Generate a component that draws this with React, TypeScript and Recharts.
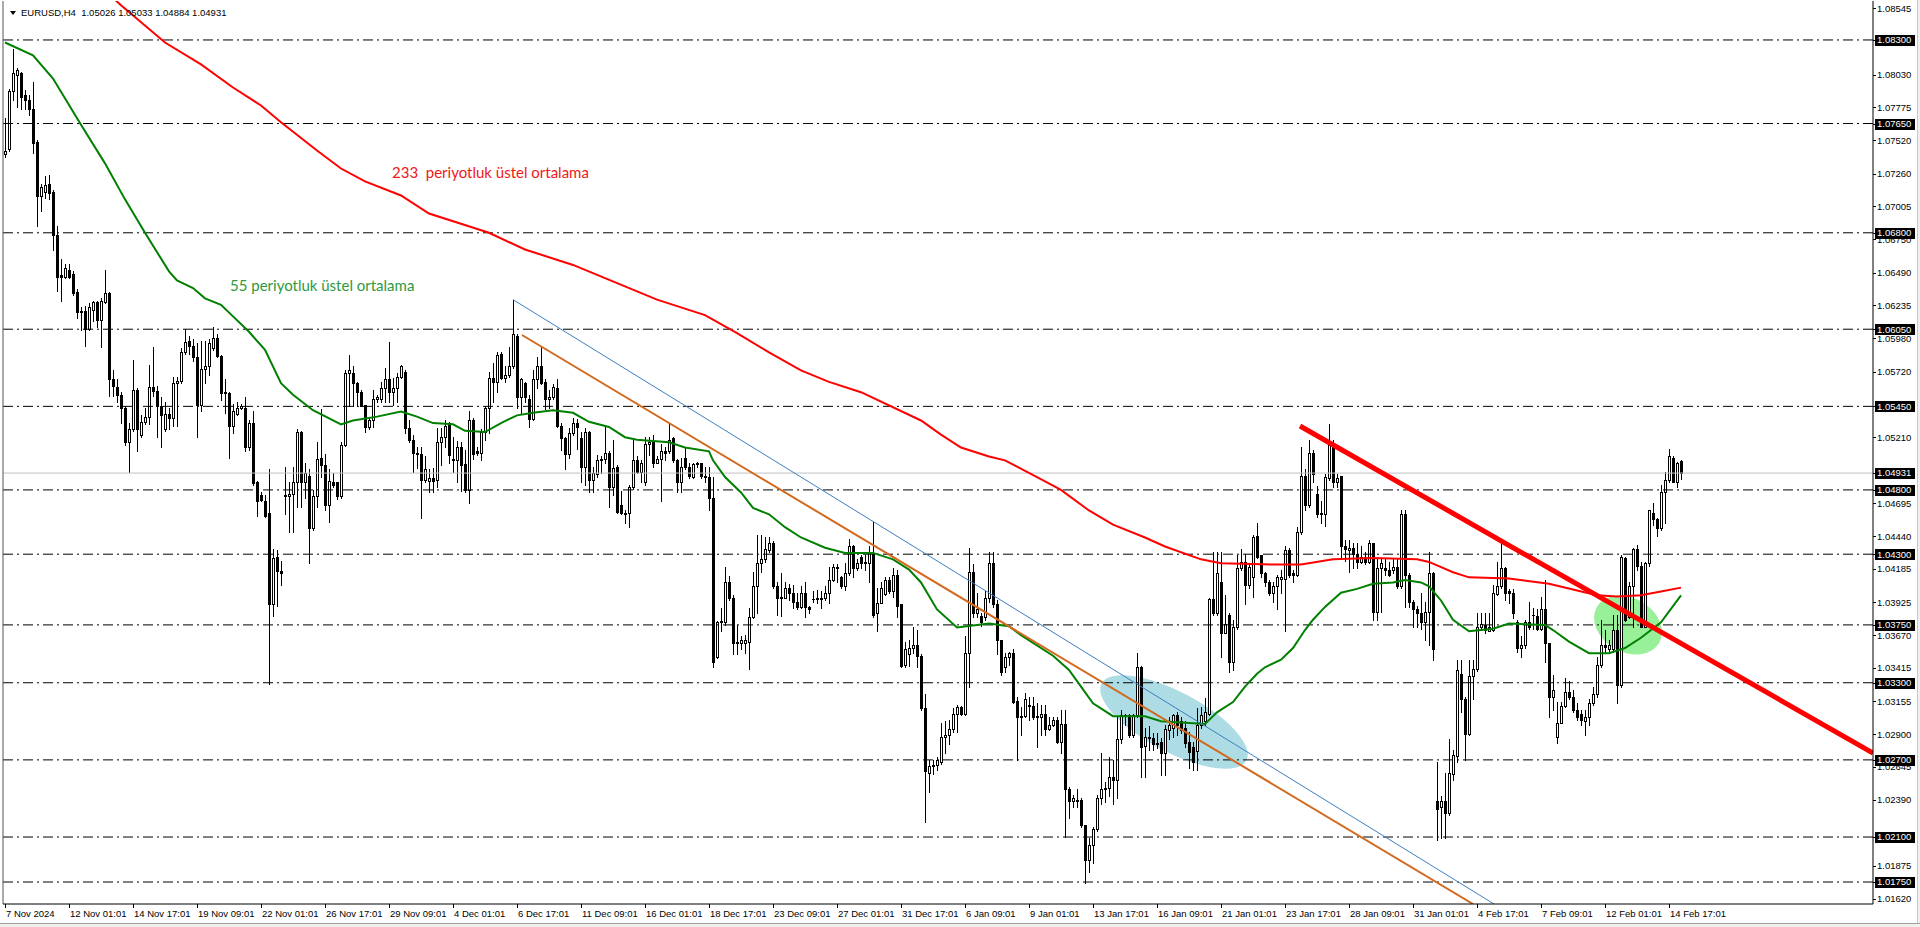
import React from 'react';
import { ComposedChart, Bar, Line, XAxis, YAxis, ReferenceLine, ReferenceArea, ReferenceDot } from 'recharts';

// ---------- DATA (EURUSD H4) ----------
const OPEN = [
1.0741,1.0745,1.0790,1.0803,1.0804,1.0787,1.0783,1.0776,1.0751,1.0709,
1.0712,1.0718,1.0712,1.0678,1.0647,1.0646,1.0651,1.0648,1.0634,1.0619,
1.0619,1.0605,1.0620,1.0626,1.0612,1.0626,1.0633,1.0566,1.0560,1.0554,
1.0544,1.0517,1.0527,1.0558,1.0523,1.0533,1.0537,1.0560,1.0557,1.0545,
1.0527,1.0539,1.0536,1.0563,1.0565,1.0587,1.0596,1.0592,1.0583,1.0546,
1.0574,1.0576,1.0590,1.0598,1.0584,1.0556,1.0555,1.0530,1.0539,1.0544,
1.0544,1.0513,1.0532,1.0486,1.0476,1.0471,1.0462,1.0391,1.0428,1.0417,
1.0475,1.0475,1.0477,1.0486,1.0525,1.0486,1.0491,1.0450,1.0475,1.0505,
1.0499,1.0468,1.0486,1.0486,1.0475,1.0515,1.0571,1.0571,1.0563,1.0556,
1.0546,1.0529,1.0534,1.0551,1.0551,1.0559,1.0566,1.0556,1.0559,1.0568,
1.0572,1.0528,1.0519,1.0509,1.0508,1.0488,1.0487,1.0489,1.0488,1.0517,
1.0521,1.0532,1.0504,1.0503,1.0513,1.0500,1.0480,1.0534,1.0510,1.0509,
1.0525,1.0544,1.0567,1.0564,1.0586,1.0567,1.0569,1.0576,1.0600,1.0552,
1.0563,1.0551,1.0535,1.0566,1.0576,1.0564,1.0551,1.0552,1.0559,1.0530,
1.0520,1.0508,1.0524,1.0532,1.0520,1.0498,1.0525,1.0488,1.0492,1.0503,
1.0504,1.0509,1.0482,1.0498,1.0468,1.0462,1.0462,1.0482,1.0503,1.0494,
1.0486,1.0516,1.0517,1.0501,1.0504,1.0510,1.0510,1.0520,1.0503,1.0486,
1.0505,1.0498,1.0490,1.0501,1.0501,1.0491,1.0490,1.0474,1.0350,1.0377,
1.0377,1.0408,1.0396,1.0362,1.0361,1.0361,1.0362,1.0381,1.0405,1.0423,
1.0426,1.0433,1.0439,1.0405,1.0397,1.0396,1.0404,1.0400,1.0393,1.0389,
1.0400,1.0389,1.0395,1.0395,1.0395,1.0396,1.0400,1.0410,1.0420,1.0412,
1.0405,1.0415,1.0436,1.0419,1.0428,1.0424,1.0423,1.0431,1.0384,1.0392,
1.0399,1.0410,1.0401,1.0414,1.0391,1.0344,1.0352,1.0357,1.0359,1.0351,
1.0310,1.0260,1.0265,1.0266,1.0268,1.0288,1.0289,1.0294,1.0306,1.0311,
1.0306,1.0353,1.0416,1.0384,1.0382,1.0381,1.0396,1.0423,1.0391,1.0363,
1.0342,1.0350,1.0353,1.0316,1.0303,1.0304,1.0313,1.0312,1.0303,1.0303,
1.0306,1.0294,1.0297,1.0301,1.0284,1.0298,1.0247,1.0238,1.0238,1.0239,
1.0219,1.0192,1.0204,1.0216,1.0240,1.0247,1.0248,1.0257,1.0254,1.0286,
1.0305,1.0305,1.0289,1.0305,1.0342,1.0281,1.0288,1.0287,1.0282,1.0284,
1.0275,1.0293,1.0295,1.0305,1.0300,1.0295,1.0284,1.0280,1.0277,1.0297,
1.0300,1.0306,1.0395,1.0384,1.0408,1.0369,1.0383,1.0346,1.0373,1.0419,
1.0424,1.0406,1.0412,1.0444,1.0429,1.0415,1.0408,1.0400,1.0405,1.0411,
1.0411,1.0433,1.0415,1.0414,1.0447,1.0491,1.0468,1.0509,1.0477,1.0462,
1.0461,1.0489,1.0515,1.0486,1.0491,1.0436,1.0433,1.0435,1.0430,1.0424,
1.0428,1.0424,1.0439,1.0385,1.0419,1.0419,1.0418,1.0418,1.0420,1.0405,
1.0461,1.0414,1.0393,1.0387,1.0384,1.0377,1.0385,1.0415,1.0238,1.0233,
1.0238,1.0229,1.0259,1.0273,1.0337,1.0317,1.0290,1.0335,1.0341,1.0373,
1.0375,1.0370,1.0371,1.0399,1.0405,1.0419,1.0401,1.0400,1.0377,1.0357,
1.0359,1.0377,1.0383,1.0382,1.0372,1.0387,1.0361,1.0319,1.0288,1.0299,
1.0312,1.0323,1.0319,1.0309,1.0306,1.0300,1.0303,1.0314,1.0321,1.0344,
1.0359,1.0356,1.0356,1.0371,1.0328,1.0427,1.0381,1.0405,1.0434,1.0421,
1.0373,1.0423,1.0462,1.0457,1.0450,1.0478,1.0488,1.0505,1.0486,1.05026,
];
const HIGH = [
1.0769,1.0792,1.0823,1.0808,1.0805,1.0791,1.0787,1.0797,1.0752,1.0718,
1.0724,1.0725,1.0713,1.0685,1.0660,1.0656,1.0656,1.0650,1.0636,1.0622,
1.0623,1.0625,1.0627,1.0627,1.0629,1.0651,1.0634,1.0573,1.0566,1.0556,
1.0545,1.0532,1.0581,1.0559,1.0538,1.0544,1.0577,1.0591,1.0561,1.0552,
1.0548,1.0544,1.0568,1.0568,1.0590,1.0605,1.0600,1.0597,1.0594,1.0596,
1.0596,1.0597,1.0607,1.0601,1.0585,1.0566,1.0556,1.0547,1.0548,1.0547,
1.0552,1.0534,1.0541,1.0487,1.0478,1.0476,1.0496,1.0434,1.0433,1.0425,
1.0498,1.0486,1.0498,1.0527,1.0526,1.0501,1.0496,1.0480,1.0517,1.0543,
1.0508,1.0496,1.0493,1.0486,1.0517,1.0573,1.0585,1.0576,1.0564,1.0558,
1.0546,1.0537,1.0558,1.0554,1.0564,1.0575,1.0595,1.0567,1.0571,1.0577,
1.0573,1.0534,1.0523,1.0513,1.0513,1.0506,1.0496,1.0497,1.0528,1.0528,
1.0534,1.0533,1.0521,1.0518,1.0517,1.0511,1.0541,1.0536,1.0513,1.0527,
1.0545,1.0572,1.0579,1.0587,1.0587,1.0576,1.0591,1.0628,1.0601,1.0567,
1.0564,1.0554,1.0573,1.0583,1.0591,1.0566,1.0558,1.0562,1.0566,1.0532,
1.0521,1.0528,1.0536,1.0535,1.0525,1.0528,1.0526,1.0498,1.0507,1.0506,
1.0529,1.0510,1.0519,1.0499,1.0479,1.0464,1.0484,1.0519,1.0506,1.0503,
1.0521,1.0521,1.0523,1.0506,1.0516,1.0513,1.0532,1.0521,1.0504,1.0505,
1.0513,1.0501,1.0501,1.0502,1.0501,1.0498,1.0498,1.0490,1.0378,1.0388,
1.0420,1.0413,1.0398,1.0375,1.0366,1.0367,1.0388,1.0416,1.0445,1.0445,
1.0443,1.0443,1.0440,1.0408,1.0415,1.0408,1.0407,1.0406,1.0400,1.0405,
1.0408,1.0390,1.0401,1.0402,1.0401,1.0405,1.0420,1.0422,1.0422,1.0413,
1.0423,1.0442,1.0437,1.0426,1.0429,1.0429,1.0436,1.0455,1.0404,1.0408,
1.0412,1.0412,1.0419,1.0418,1.0391,1.0362,1.0363,1.0373,1.0371,1.0352,
1.0321,1.0270,1.0270,1.0272,1.0299,1.0300,1.0301,1.0310,1.0313,1.0312,
1.0366,1.0435,1.0422,1.0400,1.0384,1.0401,1.0432,1.0432,1.0394,1.0363,
1.0353,1.0354,1.0356,1.0319,1.0311,1.0322,1.0319,1.0319,1.0314,1.0313,
1.0313,1.0303,1.0303,1.0303,1.0309,1.0309,1.0249,1.0243,1.0247,1.0240,
1.0219,1.0209,1.0218,1.0243,1.0275,1.0253,1.0272,1.0270,1.0303,1.0309,
1.0306,1.0306,1.0306,1.0353,1.0343,1.0295,1.0296,1.0291,1.0291,1.0287,
1.0297,1.0303,1.0306,1.0307,1.0303,1.0300,1.0292,1.0284,1.0310,1.0311,
1.0318,1.0396,1.0432,1.0432,1.0432,1.0398,1.0384,1.0379,1.0429,1.0434,
1.0430,1.0422,1.0445,1.0454,1.0429,1.0416,1.0410,1.0408,1.0414,1.0418,
1.0436,1.0435,1.0418,1.0451,1.0513,1.0496,1.0519,1.0511,1.0483,1.0471,
1.0492,1.0531,1.0519,1.0492,1.0491,1.0441,1.0441,1.0439,1.0439,1.0436,
1.0432,1.0441,1.0439,1.0426,1.0426,1.0426,1.0424,1.0426,1.0426,1.0464,
1.0464,1.0415,1.0394,1.0390,1.0400,1.0393,1.0432,1.0416,1.0268,1.0242,
1.0260,1.0286,1.0278,1.0348,1.0348,1.0319,1.0348,1.0348,1.0384,1.0384,
1.0384,1.0384,1.0406,1.0424,1.0439,1.0420,1.0403,1.0403,1.0379,1.0366,
1.0379,1.0393,1.0388,1.0387,1.0397,1.0410,1.0361,1.0336,1.0315,1.0315,
1.0334,1.0331,1.0324,1.0314,1.0309,1.0309,1.0317,1.0327,1.0350,1.0379,
1.0371,1.0363,1.0383,1.0383,1.0429,1.0428,1.0408,1.0435,1.0437,1.0424,
1.0424,1.0464,1.0470,1.0458,1.0484,1.0494,1.0512,1.0506,1.0502,1.05033,
];
const LOW = [
1.0739,1.0744,1.0783,1.0778,1.0776,1.0776,1.0772,1.0742,1.0685,1.0697,
1.0707,1.0706,1.0667,1.0635,1.0627,1.0645,1.0645,1.0632,1.0614,1.0604,
1.0592,1.0604,1.0611,1.0607,1.0591,1.0625,1.0553,1.0553,1.0548,1.0532,
1.0515,1.0494,1.0526,1.0510,1.0521,1.0531,1.0531,1.0553,1.0521,1.0513,
1.0526,1.0527,1.0530,1.0530,1.0563,1.0586,1.0586,1.0580,1.0521,1.0541,
1.0563,1.0569,1.0589,1.0583,1.0550,1.0540,1.0505,1.0524,1.0538,1.0543,
1.0510,1.0511,1.0484,1.0460,1.0471,1.0459,1.0329,1.0382,1.0390,1.0406,
1.0461,1.0447,1.0447,1.0467,1.0467,1.0474,1.0423,1.0449,1.0467,1.0490,
1.0464,1.0455,1.0482,1.0473,1.0474,1.0514,1.0545,1.0545,1.0545,1.0545,
1.0525,1.0527,1.0529,1.0548,1.0548,1.0548,1.0548,1.0546,1.0548,1.0567,
1.0524,1.0517,1.0494,1.0497,1.0458,1.0486,1.0478,1.0478,1.0482,1.0499,
1.0513,1.0501,1.0494,1.0486,1.0479,1.0478,1.0470,1.0504,1.0507,1.0503,
1.0519,1.0524,1.0548,1.0556,1.0566,1.0564,1.0568,1.0575,1.0544,1.0540,
1.0548,1.0529,1.0534,1.0559,1.0562,1.0543,1.0544,1.0551,1.0529,1.0511,
1.0496,1.0505,1.0523,1.0512,1.0486,1.0484,1.0478,1.0478,1.0490,1.0493,
1.0501,1.0467,1.0476,1.0462,1.0461,1.0454,1.0451,1.0481,1.0493,1.0486,
1.0484,1.0507,1.0498,1.0501,1.0471,1.0503,1.0509,1.0502,1.0478,1.0478,
1.0496,1.0489,1.0489,1.0498,1.0489,1.0486,1.0464,1.0342,1.0349,1.0370,
1.0375,1.0394,1.0352,1.0352,1.0356,1.0353,1.0341,1.0380,1.0384,1.0416,
1.0424,1.0432,1.0404,1.0383,1.0382,1.0396,1.0394,1.0388,1.0387,1.0388,
1.0381,1.0384,1.0393,1.0392,1.0388,1.0394,1.0392,1.0409,1.0408,1.0404,
1.0402,1.0414,1.0412,1.0418,1.0419,1.0418,1.0408,1.0381,1.0370,1.0392,
1.0398,1.0400,1.0397,1.0381,1.0342,1.0342,1.0343,1.0353,1.0342,1.0309,
1.0222,1.0245,1.0259,1.0262,1.0267,1.0275,1.0282,1.0292,1.0292,1.0305,
1.0305,1.0327,1.0381,1.0381,1.0374,1.0379,1.0393,1.0389,1.0352,1.0336,
1.0338,1.0344,1.0314,1.0270,1.0289,1.0303,1.0301,1.0302,1.0280,1.0289,
1.0289,1.0293,1.0296,1.0283,1.0275,1.0210,1.0225,1.0233,1.0233,1.0218,
1.0174,1.0183,1.0190,1.0215,1.0236,1.0237,1.0242,1.0236,1.0240,1.0283,
1.0297,1.0288,1.0288,1.0303,1.0257,1.0257,1.0278,1.0278,1.0279,1.0258,
1.0258,1.0286,1.0288,1.0289,1.0291,1.0280,1.0264,1.0262,1.0262,1.0295,
1.0297,1.0305,1.0383,1.0383,1.0350,1.0369,1.0338,1.0340,1.0372,1.0418,
1.0391,1.0404,1.0397,1.0427,1.0412,1.0405,1.0398,1.0393,1.0387,1.0400,
1.0370,1.0412,1.0408,1.0413,1.0446,1.0464,1.0467,1.0486,1.0459,1.0454,
1.0452,1.0488,1.0482,1.0482,1.0427,1.0425,1.0416,1.0419,1.0419,1.0423,
1.0422,1.0423,1.0379,1.0379,1.0385,1.0414,1.0413,1.0415,1.0404,1.0404,
1.0389,1.0389,1.0373,1.0373,1.0372,1.0363,1.0359,1.0348,1.0208,1.0209,
1.0209,1.0227,1.0254,1.0268,1.0307,1.0270,1.0289,1.0317,1.0339,1.0371,
1.0369,1.0370,1.0370,1.0398,1.0404,1.0394,1.0392,1.0380,1.0354,1.0350,
1.0357,1.0372,1.0372,1.0371,1.0371,1.0346,1.0303,1.0309,1.0283,1.0299,
1.0311,1.0317,1.0307,1.0301,1.0297,1.0289,1.0297,1.0313,1.0319,1.0342,
1.0354,1.0354,1.0354,1.0314,1.0327,1.0378,1.0380,1.0373,1.0418,1.0373,
1.0373,1.0421,1.0453,1.0444,1.0449,1.0454,1.0486,1.0486,1.0482,1.04884,
];
const CLOSE = [
1.0744,1.0790,1.0804,1.0807,1.0786,1.0783,1.0776,1.0750,1.0709,1.0716,
1.0717,1.0711,1.0678,1.0646,1.0646,1.0653,1.0646,1.0633,1.0618,1.0618,
1.0605,1.0622,1.0626,1.0612,1.0627,1.0633,1.0566,1.0561,1.0554,1.0544,
1.0517,1.0527,1.0558,1.0527,1.0533,1.0537,1.0560,1.0557,1.0545,1.0538,
1.0539,1.0536,1.0563,1.0565,1.0587,1.0595,1.0592,1.0583,1.0546,1.0574,
1.0576,1.0594,1.0598,1.0584,1.0555,1.0555,1.0530,1.0541,1.0544,1.0545,
1.0513,1.0532,1.0485,1.0471,1.0472,1.0460,1.0391,1.0427,1.0417,1.0415,
1.0476,1.0477,1.0486,1.0525,1.0486,1.0493,1.0450,1.0475,1.0504,1.0499,
1.0468,1.0487,1.0484,1.0475,1.0515,1.0571,1.0573,1.0563,1.0556,1.0545,
1.0529,1.0534,1.0551,1.0552,1.0559,1.0566,1.0556,1.0559,1.0568,1.0576,
1.0528,1.0519,1.0509,1.0508,1.0488,1.0496,1.0489,1.0487,1.0517,1.0521,
1.0530,1.0507,1.0503,1.0513,1.0499,1.0480,1.0534,1.0508,1.0509,1.0525,
1.0544,1.0567,1.0564,1.0585,1.0567,1.0569,1.0576,1.0601,1.0552,1.0566,
1.0552,1.0535,1.0566,1.0576,1.0563,1.0551,1.0552,1.0560,1.0530,1.0520,
1.0508,1.0524,1.0532,1.0529,1.0498,1.0525,1.0488,1.0493,1.0503,1.0504,
1.0509,1.0482,1.0497,1.0463,1.0462,1.0461,1.0482,1.0503,1.0494,1.0501,
1.0516,1.0517,1.0501,1.0504,1.0510,1.0509,1.0519,1.0503,1.0486,1.0498,
1.0498,1.0491,1.0500,1.0500,1.0491,1.0490,1.0474,1.0346,1.0377,1.0378,
1.0408,1.0396,1.0361,1.0361,1.0363,1.0363,1.0381,1.0405,1.0423,1.0426,
1.0434,1.0439,1.0405,1.0396,1.0396,1.0404,1.0400,1.0393,1.0389,1.0400,
1.0389,1.0387,1.0395,1.0396,1.0396,1.0400,1.0410,1.0420,1.0419,1.0405,
1.0415,1.0436,1.0419,1.0423,1.0423,1.0423,1.0431,1.0383,1.0392,1.0404,
1.0410,1.0401,1.0414,1.0390,1.0343,1.0356,1.0357,1.0359,1.0351,1.0310,
1.0261,1.0265,1.0266,1.0270,1.0288,1.0289,1.0294,1.0306,1.0311,1.0306,
1.0353,1.0416,1.0384,1.0387,1.0377,1.0396,1.0423,1.0391,1.0363,1.0338,
1.0350,1.0353,1.0315,1.0303,1.0304,1.0317,1.0312,1.0303,1.0304,1.0306,
1.0294,1.0297,1.0301,1.0284,1.0298,1.0247,1.0238,1.0240,1.0239,1.0219,
1.0192,1.0204,1.0216,1.0240,1.0247,1.0248,1.0257,1.0254,1.0286,1.0305,
1.0305,1.0289,1.0305,1.0342,1.0280,1.0288,1.0287,1.0282,1.0283,1.0275,
1.0294,1.0297,1.0305,1.0297,1.0293,1.0283,1.0276,1.0268,1.0297,1.0305,
1.0307,1.0395,1.0384,1.0415,1.0369,1.0376,1.0346,1.0373,1.0419,1.0424,
1.0406,1.0420,1.0443,1.0428,1.0415,1.0408,1.0400,1.0405,1.0412,1.0412,
1.0433,1.0414,1.0414,1.0447,1.0491,1.0468,1.0509,1.0492,1.0461,1.0461,
1.0490,1.0515,1.0486,1.0489,1.0436,1.0434,1.0435,1.0430,1.0424,1.0428,
1.0424,1.0439,1.0385,1.0419,1.0423,1.0418,1.0414,1.0420,1.0405,1.0461,
1.0414,1.0393,1.0387,1.0384,1.0377,1.0385,1.0415,1.0356,1.0232,1.0238,
1.0229,1.0260,1.0274,1.0340,1.0317,1.0290,1.0335,1.0341,1.0373,1.0376,
1.0371,1.0373,1.0400,1.0405,1.0419,1.0400,1.0400,1.0384,1.0357,1.0359,
1.0377,1.0373,1.0383,1.0372,1.0387,1.0361,1.0319,1.0324,1.0299,1.0312,
1.0323,1.0319,1.0309,1.0303,1.0301,1.0303,1.0314,1.0321,1.0344,1.0359,
1.0358,1.0359,1.0371,1.0328,1.0428,1.0379,1.0405,1.0434,1.0421,1.0373,
1.0423,1.0464,1.0457,1.0450,1.0478,1.0488,1.0506,1.0486,1.0501,1.04931,
];

// 55-period EMA (green) read at points: [bar, price]
const EMA55: [number, number][] = [
[0,1.0828],[7,1.0818],[12,1.0800],[19,1.0764],[25,1.0734],[30,1.0706],[35,1.0680],[41,1.0650],[43,1.0643],[47,1.0637],
[50,1.0629],[54,1.0624],[57,1.0615],[61,1.0603],[65,1.0589],[69,1.0563],[72,1.0554],[77,1.0542],[84,1.0531],[87,1.0534],
[93,1.0537],[99,1.0541],[103,1.0537],[107,1.0532],[112,1.0531],[115,1.0526],[120,1.0525],[124,1.0532],[128,1.0538],[132,1.0540],
[137,1.0542],[142,1.0540],[146,1.0533],[151,1.0529],[155,1.0521],[158,1.0519],[166,1.0517],[170,1.0513],[176,1.0510],[177,1.0503],
[180,1.0490],[184,1.0478],[187,1.0466],[191,1.0461],[195,1.0451],[199,1.0443],[205,1.0435],[210,1.0431],[217,1.0431],[222,1.0426],
[226,1.0418],[229,1.0408],[233,1.0387],[238,1.0373],[246,1.0376],[251,1.0374],[254,1.0367],[262,1.0351],[266,1.0340],[269,1.0327],
[272,1.0314],[277,1.0304],[285,1.0304],[289,1.0300],[294,1.0299],[300,1.0298],[303,1.0307],[307,1.0315],[310,1.0327],[313,1.0337],
[315,1.0342],[319,1.0348],[322,1.0357],[325,1.0371],[327,1.0379],[330,1.0389],[334,1.0400],[338,1.0403],[342,1.0407],[347,1.0408],
[350,1.0410],[354,1.0408],[356,1.0405],[359,1.0394],[362,1.0379],[366,1.0370],[372,1.0372],[376,1.0376],[385,1.0375],[387,1.0371],
[391,1.0362],[396,1.0353],[401,1.0353],[405,1.0357],[409,1.0365],[414,1.0377],[419,1.0398],
];
// 233-period EMA (red)
const EMA233: [number, number][] = [
[22,1.0877],[29,1.0857],[40,1.0828],[49,1.0811],[57,1.0793],[64,1.0779],[69,1.0766],[78,1.0744],[84,1.0730],[90,1.0720],
[99,1.0709],[106,1.0695],[121,1.0680],[130,1.0667],[142,1.0655],[163,1.0628],[175,1.0616],[183,1.0602],[191,1.0587],[199,1.0573],
[206,1.0564],[214,1.0556],[229,1.0534],[234,1.0523],[239,1.0513],[246,1.0506],[250,1.0503],[258,1.0490],[264,1.0480],[271,1.0464],
[277,1.0453],[285,1.0443],[290,1.0436],[299,1.0426],[304,1.0423],[317,1.0422],[324,1.0422],[332,1.0426],[342,1.0427],[353,1.0426],
[356,1.0424],[362,1.0416],[366,1.0412],[376,1.0411],[386,1.0407],[398,1.0398],[403,1.0397],[409,1.0398],[414,1.0401],[419,1.0404],
];

const X_TICK_BARS = [0,16,32,48,64,80,96,112,128,144,160,176,192,208,224,240,256,272,288,304,320,336,352,368,384,400,416];
const X_TICK_LABELS = ['7 Nov 2024','12 Nov 01:01','14 Nov 17:01','19 Nov 09:01','22 Nov 01:01','26 Nov 17:01','29 Nov 09:01',
  '4 Dec 01:01','6 Dec 17:01','11 Dec 09:01','16 Dec 01:01','18 Dec 17:01','23 Dec 09:01','27 Dec 01:01','31 Dec 17:01',
  '6 Jan 09:01','9 Jan 01:01','13 Jan 17:01','16 Jan 09:01','21 Jan 01:01','23 Jan 17:01','28 Jan 09:01','31 Jan 01:01',
  '4 Feb 17:01','7 Feb 09:01','12 Feb 01:01','14 Feb 17:01'];

const Y_GRID_TICKS = [1.08545,1.08030,1.07775,1.07520,1.07260,1.07005,1.06750,1.06490,1.06235,1.05980,1.05720,1.05210,
  1.04695,1.04440,1.04185,1.03925,1.03670,1.03415,1.03155,1.02900,1.02645,1.02390,1.01875,1.01620];
const LEVELS = [1.08300,1.07650,1.06800,1.06050,1.05450,1.04800,1.04300,1.03750,1.03300,1.02700,1.02100,1.01750];
const LAST_PRICE = 1.04931;
const HEADER = 'EURUSD,H4  1.05026 1.05033 1.04884 1.04931';

// drawn objects (bar index, price)
const BLUE_TREND = [{ x: 127, y: 1.0628 }, { x: 372.25, y: 1.01579 }];
const ORANGE_TREND = [{ x: 129.25, y: 1.06005 }, { x: 367, y: 1.01579 }];
const RED_TREND = [{ x: 323.75, y: 1.05297 }, { x: 467, y: 1.02753 }];
const CYAN_ELLIPSE = { x1: 271.75, x2: 312.75, y1: 1.02761, y2: 1.03228, angle: 28 };
const GREEN_ELLIPSE = { x1: 396.75, x2: 414.75, y1: 1.03539, y2: 1.03959, angle: 30 };
const LABEL_55 = { x: 56.25, y: 1.0639, text: '55 periyotluk üstel ortalama' };
const LABEL_233 = { x: 96.75, y: 1.0727, text: '233  periyotluk üstel ortalama' };

const X_DOMAIN: [number, number] = [-0.5, 467];
const Y_DOMAIN: [number, number] = [1.01579, 1.08603];

// ---------- rows ----------
const e55Map = new Map(EMA55.map(([i, v]) => [i, v]));
const e233Map = new Map(EMA233.map(([i, v]) => [i, v]));
const rows = OPEN.map((o, i) => ({
  i, o, h: HIGH[i], l: LOW[i], c: CLOSE[i],
  lh: [LOW[i], HIGH[i]],
  e55: e55Map.has(i) ? e55Map.get(i) : null,
  e233: e233Map.has(i) ? e233Map.get(i) : null,
}));

const AXIS_FONT = '"Liberation Sans", Arial, sans-serif';

const Candle = (props: any) => {
  const { x, y, width, height, payload } = props;
  if (x == null || y == null || !payload) return null;
  const { o, h, l, c } = payload;
  const n = Math.round(x + width / 2);
  const cx = n + 0.5;
  const k = h - l > 0 ? height / (h - l) : 0;
  const yO = y + (h - o) * k;
  const yC = y + (h - c) * k;
  const top = Math.round(Math.min(yO, yC)) + 0.5;
  const bot = Math.round(Math.max(yO, yC)) + 0.5;
  const bull = c >= o;
  const wTop = Math.round(y);
  const wBot = Math.round(y + height) + 1;
  return (
    <g>
      <line x1={cx} x2={cx} y1={wTop} y2={wBot} stroke="#000" strokeWidth={1} />
      {bot - top >= 1 ? (
        <rect x={cx - 1} y={top} width={2} height={bot - top} fill={bull ? '#fff' : '#000'} stroke="#000" strokeWidth={1} />
      ) : (
        <line x1={cx - 1.5} x2={cx + 1.5} y1={top} y2={top} stroke="#000" strokeWidth={1} />
      )}
    </g>
  );
};

const XTick = (props: any) => {
  const { x, y, payload } = props;
  const idx = X_TICK_BARS.indexOf(payload.value);
  const label = idx >= 0 ? X_TICK_LABELS[idx] : '';
  const px = Math.round(x) + 0.5;
  return (
    <g>
      <line x1={px} x2={px} y1={y} y2={y + 4} stroke="#000" strokeWidth={1} />
      <text x={px + 0.5} y={y + 13} fontSize={9.5} fontFamily={AXIS_FONT} fill="#000" textAnchor="start">{label}</text>
    </g>
  );
};

const YTick = (props: any) => {
  const { x, y, payload } = props;
  const v: number = payload.value;
  const boxed = LEVELS.indexOf(v) >= 0 || v === LAST_PRICE;
  const py = Math.round(y) + 0.5;
  return (
    <g>
      <line x1={x} x2={x + 3} y1={py} y2={py} stroke="#000" strokeWidth={1} />
      {boxed && <rect x={x + 2} y={Math.round(y) - 5} width={40} height={11} fill="#000" />}
      <text x={x + 4} y={y} dy="0.36em" fontSize={9.5} fontFamily={AXIS_FONT} fill={boxed ? '#fff' : '#000'} textAnchor="start">
        {v.toFixed(5)}
      </text>
    </g>
  );
};

const ellipseShape = (angle: number, color: string) => (props: any) => {
  const { x, y, width, height } = props;
  const cx = x + width / 2;
  const cy = y + height / 2;
  return (
    <ellipse cx={cx} cy={cy} rx={width / 2} ry={height / 2} fill={color} stroke="none"
      transform={`rotate(${angle} ${cx} ${cy})`} />
  );
};

const textShape = (text: string, color: string) => (props: any) => (
  <text x={props.cx} y={props.cy} dy="0.35em" fontSize={15} fontFamily='Lato, "Open Sans", sans-serif' fill={color}
    textAnchor="start" style={{ whiteSpace: 'pre' }} xmlSpace="preserve">{text}</text>
);

export default function App() {
  return (
    <div style={{ position: 'fixed', left: 0, top: 0, width: 1920, height: 927, background: '#fff', overflow: 'hidden' }}>
      <ComposedChart width={1920} height={927} data={rows} margin={{ top: 1, right: 0, bottom: 0, left: 3 }}>
        <XAxis type="number" dataKey="i" domain={X_DOMAIN} ticks={X_TICK_BARS} interval={0} allowDataOverflow
          tick={XTick} tickLine={false} tickSize={0} tickMargin={0} height={23} axisLine={{ stroke: '#000' }} />
        <YAxis orientation="right" type="number" domain={Y_DOMAIN} allowDataOverflow
          ticks={[...Y_GRID_TICKS, ...LEVELS, LAST_PRICE]} interval={0}
          tick={YTick} tickLine={false} tickSize={0} tickMargin={0} width={47} axisLine={{ stroke: '#000' }} />

        <ReferenceArea x1={CYAN_ELLIPSE.x1} x2={CYAN_ELLIPSE.x2} y1={CYAN_ELLIPSE.y1} y2={CYAN_ELLIPSE.y2}
          shape={ellipseShape(CYAN_ELLIPSE.angle, '#ADDCE4')} ifOverflow="visible" />
        <ReferenceArea x1={GREEN_ELLIPSE.x1} x2={GREEN_ELLIPSE.x2} y1={GREEN_ELLIPSE.y1} y2={GREEN_ELLIPSE.y2}
          shape={ellipseShape(GREEN_ELLIPSE.angle, '#98F098')} ifOverflow="visible" />

        <ReferenceLine y={LAST_PRICE} stroke="#C0C0C0" strokeWidth={1} />
        {LEVELS.map((lv) => (
          <ReferenceLine key={lv} y={lv} stroke="#000" strokeWidth={1} strokeDasharray="10 4 2 4" />
        ))}
        <ReferenceLine x={X_DOMAIN[0]} stroke="#555" strokeWidth={1} />

        <Bar dataKey="lh" barSize={3} shape={Candle} isAnimationActive={false} />

        <Line dataKey="e233" stroke="#FF0000" strokeWidth={2} dot={false} connectNulls type="linear" isAnimationActive={false} />
        <Line dataKey="e55" stroke="#008000" strokeWidth={2} dot={false} connectNulls type="linear" isAnimationActive={false} />

        <ReferenceLine segment={BLUE_TREND} stroke="#3C7FC0" strokeWidth={1} ifOverflow="hidden" />
        <ReferenceLine segment={ORANGE_TREND} stroke="#D2691E" strokeWidth={2} ifOverflow="hidden" />
        <ReferenceLine segment={RED_TREND} stroke="#FF0000" strokeWidth={5} ifOverflow="hidden" />

        <ReferenceDot x={LABEL_55.x} y={LABEL_55.y} r={0} shape={textShape(LABEL_55.text, '#2E9A3E')} />
        <ReferenceDot x={LABEL_233.x} y={LABEL_233.y} r={0} shape={textShape(LABEL_233.text, '#F01818')} />
      </ComposedChart>

      <div style={{ position: 'absolute', left: 10, top: 11, width: 0, height: 0, borderLeft: '3px solid transparent',
        borderRight: '3px solid transparent', borderTop: '4px solid #000' }} />
      <div style={{ position: 'absolute', left: 21, top: 7, fontFamily: AXIS_FONT, fontSize: 9.5, lineHeight: '11px',
        color: '#000', whiteSpace: 'pre' }}>{HEADER}</div>

      <div style={{ position: 'absolute', left: 0, top: 923, width: 1920, height: 4, background: '#F0F0F0', borderTop: '1px solid #A0A0A0' }} />
      <div style={{ position: 'absolute', left: 1917, top: 0, width: 3, height: 923, background: '#F0F0F0', borderLeft: '1px solid #C8C8C8' }} />
    </div>
  );
}
